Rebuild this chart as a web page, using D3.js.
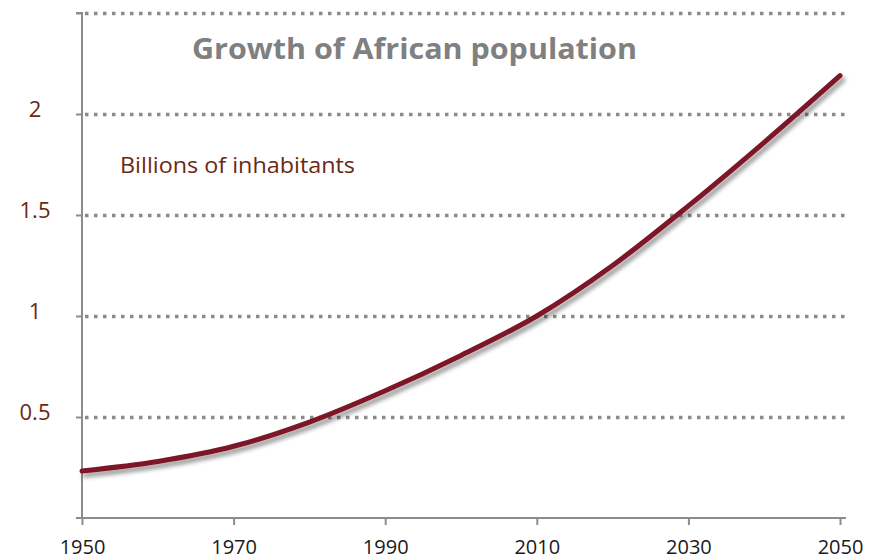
<!DOCTYPE html>
<html>
<head>
<meta charset="utf-8">
<script src="https://cdn.jsdelivr.net/npm/d3@7"></script>
<style>
  html, body { margin: 0; padding: 0; background: #fff; }
  svg { display: block; }
</style>
</head>
<body>
<svg id="chart" width="887" height="560"></svg>
<script>
// African population, billions of inhabitants
const years = [1950, 1960, 1970, 1980, 1990, 2000, 2010, 2020, 2030, 2040, 2050];
const population = [0.233, 0.28, 0.355, 0.475, 0.63, 0.805, 1.0, 1.25, 1.545, 1.86, 2.19];
const xTicks = [1950, 1970, 1990, 2010, 2030, 2050];
const yTicks = [0.5, 1, 1.5, 2, 2.5];
const yTickLabels = ["0.5", "1", "1.5", "2", ""];

const titleText = "Growth of African population";
const unitText = "Billions of inhabitants";

const svg = d3.select("#chart");
const plotLeft = 82, plotRight = 840, plotTop = 13, plotBottom = 518;
const font = "'Open Sans', Lato, sans-serif";

const x = d3.scaleLinear().domain([1950, 2050]).range([plotLeft, plotRight]);
const y = d3.scaleLinear().domain([0, 2.5]).range([plotBottom, plotTop]);

// soft drop shadow under the line
const defs = svg.append("defs");
const f = defs.append("filter").attr("id", "shadow")
  .attr("x", "-10%").attr("y", "-10%").attr("width", "130%").attr("height", "130%");
f.append("feGaussianBlur").attr("in", "SourceAlpha").attr("stdDeviation", 2.2).attr("result", "blur");
f.append("feOffset").attr("in", "blur").attr("dx", 3).attr("dy", 4).attr("result", "off");
f.append("feComponentTransfer").attr("in", "off").attr("result", "shade")
  .append("feFuncA").attr("type", "linear").attr("slope", 0.4);
const merge = f.append("feMerge");
merge.append("feMergeNode").attr("in", "shade");
merge.append("feMergeNode").attr("in", "SourceGraphic");

// horizontal dotted gridlines
svg.append("g").selectAll("line").data(yTicks).join("line")
  .attr("x1", plotLeft + 3).attr("x2", 847)
  .attr("y1", d => Math.round(y(d)) + 0.5).attr("y2", d => Math.round(y(d)) + 0.5)
  .attr("stroke", "#8a8a8a").attr("stroke-width", 3.5)
  .attr("stroke-dasharray", "3.5,5.5");

// y axis
const yAxis = d3.axisLeft(y).tickValues(yTicks).tickSize(6).tickFormat("");
const gy = svg.append("g").attr("transform", `translate(${plotLeft},0)`).call(yAxis);
gy.select(".domain").attr("d", `M-6,${plotTop}H0V${plotBottom}`).attr("stroke", "#8c8c8c").attr("stroke-width", 2);
gy.selectAll(".tick line").attr("stroke", "#8c8c8c").attr("stroke-width", 2);

// y tick labels
svg.append("g").selectAll("text").data(yTicks).join("text")
  .attr("x", 35).attr("y", d => y(d) + 3)
  .attr("text-anchor", "middle")
  .attr("font-family", font)
  .attr("font-size", 22).attr("fill", "#6b2813")
  .text((d, i) => yTickLabels[i]);

// x axis
const xAxis = d3.axisBottom(x).tickValues(xTicks).tickSize(7).tickFormat(d3.format("d"));
const gx = svg.append("g").attr("transform", `translate(0,${plotBottom})`).call(xAxis);
gx.select(".domain").attr("d", `M76,0H846`).attr("stroke", "#8c8c8c").attr("stroke-width", 2);
gx.selectAll(".tick line").attr("stroke", "#8c8c8c").attr("stroke-width", 2);
gx.selectAll(".tick text")
  .attr("y", 22)
  .attr("font-family", font)
  .attr("font-size", 20).attr("fill", "#1a1a1a");

// population line
const line = d3.line().x((d, i) => x(years[i])).y(d => y(d)).curve(d3.curveMonotoneX);
svg.append("path").datum(population)
  .attr("d", line)
  .attr("fill", "none")
  .attr("stroke", "#7d1427")
  .attr("stroke-width", 5)
  .attr("stroke-linecap", "round")
  .attr("filter", "url(#shadow)");

// title and unit label
svg.append("text").attr("x", 192).attr("y", 59)
  .attr("font-family", font)
  .attr("font-weight", "bold").attr("font-size", 29).attr("fill", "#808080")
  .attr("textLength", 445).attr("lengthAdjust", "spacingAndGlyphs")
  .text(titleText);

svg.append("text").attr("x", 120).attr("y", 173)
  .attr("font-family", font)
  .attr("font-size", 21).attr("fill", "#6b2813")
  .attr("textLength", 235).attr("lengthAdjust", "spacingAndGlyphs")
  .text(unitText);
</script>
</body>
</html>
